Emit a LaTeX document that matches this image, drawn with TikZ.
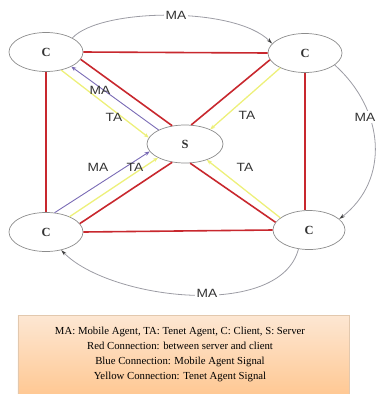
\documentclass[tikz,border=0pt]{standalone}
\usepackage{graphicx}
\usepackage{fontspec}
\setmainfont{Liberation Serif}
\newfontfamily\tagfont{Liberation Sans}
\usetikzlibrary{shapes.geometric,arrows.meta}

\definecolor{linkred}{HTML}{C8282E}
\definecolor{tayellow}{HTML}{EDF07A}
\definecolor{mablue}{HTML}{7A6BB5}
\definecolor{hopgrey}{HTML}{9C9CA4}
\definecolor{hostedge}{HTML}{8C8C8C}
\definecolor{keytop}{HTML}{FDE7D3}
\definecolor{keybottom}{HTML}{FFC287}
\definecolor{keyedge}{HTML}{E2C8AE}

\newcommand\agenttag[1]{\scalebox{1.15}[1]{#1}}

\begin{document}
\begin{tikzpicture}[x=1bp,y=-1bp,
  host/.style={ellipse,draw=hostedge,line width=0.7bp,fill=white,inner sep=0pt,
               minimum width=74bp,minimum height=39bp,
               font=\bfseries\fontsize{12.5}{12.5}\selectfont,text=black!80},
  wire/.style={draw=linkred,line width=1.6bp},
  tasig/.style={draw=tayellow,line width=1.3bp,-{Stealth[length=5bp,width=4bp]}},
  masig/.style={draw=mablue,line width=0.9bp,-{Stealth[length=5bp,width=4bp]}},
  mahop/.style={draw=hopgrey,line width=0.8bp,-{Stealth[length=6bp,width=3.5bp,color=black!75]}},
  tag/.style={font=\tagfont\fontsize{12}{12}\selectfont,text=black!80,inner sep=1bp},
  hoptag/.style={tag,fill=white,inner sep=1.5bp},
  keybox/.style={draw=keyedge,line width=0.6bp,top color=keytop,bottom color=keybottom,
                 minimum width=331bp,minimum height=95bp,inner sep=0pt},
  keytext/.style={align=center,font=\fontsize{10.8}{15}\selectfont,text=black}
]
\useasboundingbox (0,0) rectangle (377,394);

% clients and server
\node[host] (ctl) at (46,52)  {C};
\node[host] (ctr) at (305,53) {C};
\node[host,minimum width=76bp,minimum height=38bp] (s) at (185,144) {S};
\node[host] (cbl) at (46,232) {C};
\node[host,minimum width=72bp] (cbr) at (309,230) {C};

% red links between server and clients
\draw[wire] (ctl.east) -- (ctr.west);
\draw[wire] (ctl.south) -- (cbl.north);
\draw[wire] (ctr.south) -- (ctr.south |- cbr.north);
\draw[wire] (cbl.east) -- (cbr.west);
\draw[wire] (ctl.-12) -- (s.125);
\draw[wire] (ctr.-169) -- (s.72);
\draw[wire] (cbl.14) -- (s.-125);
\draw[wire] (cbr.167) -- (s.-75);

% tenet agent signals
\draw[tasig] (ctl.-50) -- (s.170);
\draw[tasig] (ctr.-149) -- (s.30);
\draw[tasig] (cbl.33) -- (s.-153);
\draw[tasig] (cbr.157) -- (s.-36);

% mobile agent signals
\draw[masig] (s.152) -- (ctl.-30);
\draw[masig] (cbl.66) -- (s.-168);

% mobile agent hops between clients
\draw[mahop] (ctl.28) .. controls (100,8) and (235,6) .. (ctr.164);
\draw[mahop] (ctr.-22) .. controls (385,110) and (390,180) .. (cbr.20);
\draw[mahop] (cbr.-119) .. controls (280,320) and (110,300) .. (cbl.-50);

\node[hoptag] (hopa) at (176,15)  {\agenttag{MA}};
\node[hoptag] (hopb) at (365,117) {\agenttag{MA}};
\node[hoptag] (hopc) at (207,293) {\agenttag{MA}};

% signal labels
\node[tag] (ma1) at (100,90)  {\agenttag{MA}};
\node[tag] (ta1) at (114,117) {\agenttag{TA}};
\node[tag] (ta2) at (247,115) {\agenttag{TA}};
\node[tag] (ma2) at (98,167)  {\agenttag{MA}};
\node[tag] (ta3) at (135,167) {\agenttag{TA}};
\node[tag] (ta4) at (245,167) {\agenttag{TA}};

% legend
\node[keybox] (key) at (183.5,362.5) {};
\node[keytext] (keytxt) at (180,354.5)
  {MA: Mobile Agent, TA: Tenet Agent, C: Client, S: Server\\
   Red Connection: between server and client\\
   Blue Connection: Mobile Agent Signal\\
   Yellow Connection: Tenet Agent Signal};
\end{tikzpicture}
\end{document}
